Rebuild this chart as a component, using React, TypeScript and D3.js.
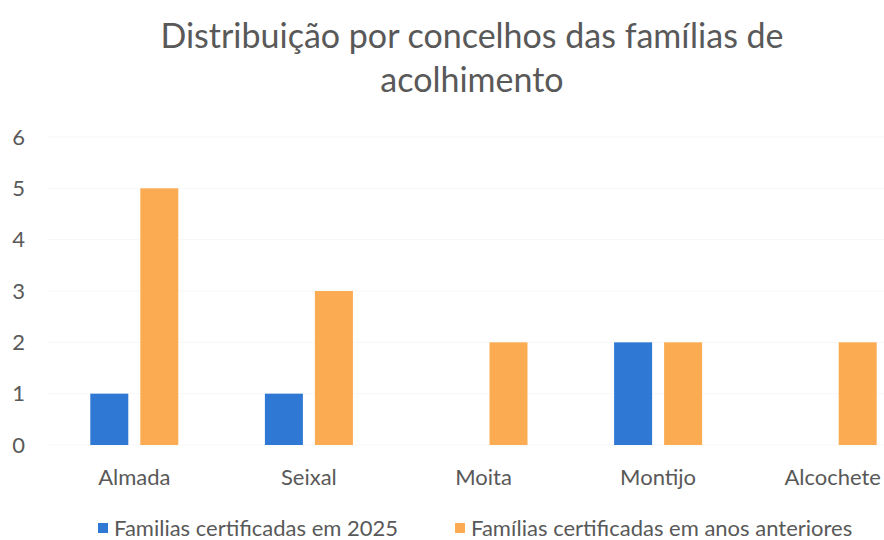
import React, { useEffect, useRef } from "react";
import * as d3 from "d3";

const concelhos = ["Almada", "Seixal", "Moita", "Montijo", "Alcochete"];
const series = ["Familias certificadas em 2025", "Famílias certificadas em anos anteriores"];
const certificadas2025 = [1, 1, 0, 2, 0];
const anosAnteriores = [5, 3, 2, 2, 2];
const yTicks = [0, 1, 2, 3, 4, 5, 6];
const titleLines = ["Distribuição por concelhos das famílias de", "acolhimento"];

const colors = ["#2f78d4", "#fbab52"];
const textColor = "#595959";
const font = "Lato, 'Open Sans', sans-serif";

export default function App() {
  const ref = useRef<SVGSVGElement>(null);

  useEffect(() => {
    document.body.style.margin = "0";
    const svg = d3.select(ref.current);
    svg.selectAll("*").remove();

    const width = 884;
    const height = 540;

    svg.attr("width", width).attr("height", height).style("display", "block");

    const x = d3.scaleBand().domain(concelhos).range([47, 920]).padding(0);
    const y = d3.scaleLinear().domain([0, 6]).range([445, 137]);

    const groupW = 88;
    const x1 = d3
      .scaleBand()
      .domain(series)
      .range([x.bandwidth() / 2 - groupW / 2, x.bandwidth() / 2 + groupW / 2])
      .paddingInner(0.24)
      .paddingOuter(0);

    // faint gridlines
    svg
      .append("g")
      .selectAll("line")
      .data(yTicks)
      .join("line")
      .attr("x1", 47)
      .attr("x2", 884)
      .attr("y1", (d) => y(d))
      .attr("y2", (d) => y(d))
      .attr("stroke", "#f7f7f7")
      .attr("stroke-width", 1);

    // y labels
    svg
      .append("g")
      .selectAll("text")
      .data(yTicks)
      .join("text")
      .attr("x", 25)
      .attr("y", (d) => y(d))
      .attr("dy", "0.35em")
      .attr("text-anchor", "end")
      .attr("font-family", font)
      .attr("font-size", 22)
      .attr("fill", textColor)
      .text((d) => d);

    const rows = concelhos.map((c, i) => ({
      c,
      values: [
        { s: series[0], v: certificadas2025[i] },
        { s: series[1], v: anosAnteriores[i] },
      ],
    }));

    const groups = svg
      .append("g")
      .selectAll("g")
      .data(rows)
      .join("g")
      .attr("transform", (d) => `translate(${x(d.c)},0)`);

    groups
      .selectAll("rect")
      .data((d) => d.values.filter((v) => v.v > 0))
      .join("rect")
      .attr("x", (d) => x1(d.s)!)
      .attr("y", (d) => y(d.v))
      .attr("width", x1.bandwidth())
      .attr("height", (d) => y(0) - y(d.v))
      .attr("fill", (d) => colors[series.indexOf(d.s)]);

    // category labels
    svg
      .append("g")
      .selectAll("text")
      .data(concelhos)
      .join("text")
      .attr("x", (d) => x(d)! + x.bandwidth() / 2)
      .attr("y", 485)
      .attr("text-anchor", "middle")
      .attr("font-family", font)
      .attr("font-size", 22)
      .attr("fill", textColor)
      .text((d) => d);

    // title
    svg
      .append("g")
      .selectAll("text")
      .data(titleLines)
      .join("text")
      .attr("x", 472)
      .attr("y", (d, i) => 48 + i * 44)
      .attr("text-anchor", "middle")
      .attr("font-family", font)
      .attr("font-size", 34)
      .attr("fill", textColor)
      .text((d) => d);

    // legend
    const legendX = [98, 455];
    const legend = svg
      .append("g")
      .selectAll("g")
      .data(series)
      .join("g")
      .attr("transform", (d, i) => `translate(${legendX[i]},523)`);
    legend
      .append("rect")
      .attr("width", 10)
      .attr("height", 10)
      .attr("fill", (d, i) => colors[i]);
    legend
      .append("text")
      .attr("x", 16)
      .attr("y", 5)
      .attr("dy", "0.35em")
      .attr("font-family", font)
      .attr("font-size", 22)
      .attr("fill", textColor)
      .text((d) => d);
  }, []);

  return <svg ref={ref}></svg>;
}
